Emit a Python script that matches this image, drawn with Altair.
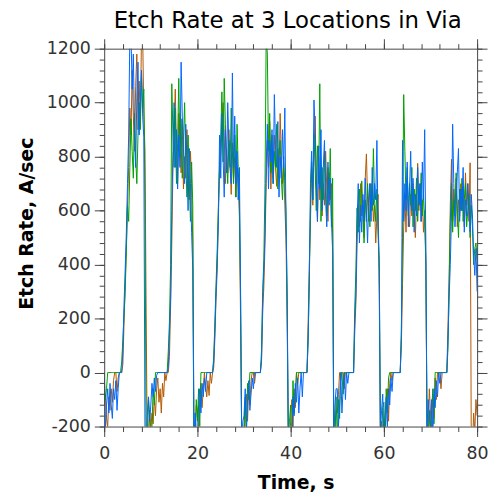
import altair as alt
import pandas as pd

# ---------------- data (sampled every 0.25 s, t = 0 ... 80) ----------------
STEP = 0.25

brown = [
    # 0-10 s
    -120, -80, -170, -200, -90, -140, -60, -110, -30, 0,
    0, -70, -20, 0, 0, 0, 30, 180, 330, 470,
    620, 760, 980, 880, 1120, 950, 820, 1060, 1180, 900,
    1080, 920, 1250, 1250, 960, 820, 220, -300, -220, -140,
    # 10-20 s
    -210, -150, -190, -90, -160, -60, -20, -110, -60, -150,
    -40, -90, 0, -30, 0, 0, 60, 250, 480, 760,
    900, 1050, 820, 700, 960, 860, 740, 920, 680, 800,
    720, 900, 760, 640, 820, 700, 480, -240, -210, -120,
    # 20-30 s
    -140, -220, -100, -40, -130, -60, 0, -50, -90, -30,
    -85, 0, -40, 0, 20, 130, 280, 380, 600, 760,
    820, 930, 1000, 880, 700, 830, 740, 900, 780, 660,
    850, 720, 800, 650, 760, 700, 580, 200, -240, -220,
    # 30-40 s
    -240, -130, -80, -180, -50, -120, -30, 0, 0, -40,
    0, 0, 0, 0, 0, 40, 220, 320, 480, 700,
    860, 760, 930, 680, 820, 720, 880, 760, 690, 830,
    720, 960, 800, 700, 760, 620, 500, 180, -230, -260,
    # 40-50 s
    -180, -100, -210, -60, -130, 0, -40, 0, 0, 0,
    0, 0, 0, 0, 0, 180, 400, 560, 760, 620,
    820, 950, 700, 560, 800, 640, 760, 580, 700, 620,
    820, 680, 560, 740, 640, 700, 520, -230, -200, -140,
    # 50-60 s
    -150, -80, 0, -30, 0, 0, -60, 0, 0, 0,
    0, 0, 0, 0, 0, 150, 260, 480, 620, 540,
    700, 580, 640, 500, 720, 810, 640, 560, 700, 600,
    680, 560, 620, 480, 580, 660, 300, -240, -180, -220,
    # 60-70 s
    -190, -250, -140, -60, -180, -40, 0, -30, 0, 0,
    0, 0, 0, 0, 0, 100, 330, 540, 660, 520,
    720, 600, 540, 660, 580, 700, 620, 500, 640, 775,
    600, 700, 560, 640, 520, 600, 420, -230, -210, -60,
    # 70-80 s
    -150, -220, -80, -170, -20, -100, 0, 0, 0, -60,
    0, 0, 0, 0, 0, 170, 360, 620, 790, 560,
    680, 600, 720, 540, 640, 580, 700, 600, 680, 540,
    740, 620, 700, 560, 777, -260, -280, -150, -220, -100,
    -160,
]

green = [
    # 0-10 s
    -20, -100, -60, 0, 0, 0, 0, 0, 0, 0,
    0, 0, 0, 0, 0, 40, 120, 210, 300, 450,
    620, 560, 760, 940, 820, 720, 960, 800, 700, 880,
    1000, 900, 1100, 980, 1050, 640, -280, -250, -100, -170,
    # 10-20 s
    -270, -200, -60, -120, 0, 0, 0, 0, 0, 0,
    0, 0, 0, 0, 0, 80, 190, 400, 1070, 880,
    760, 980, 700, 850, 1090, 800, 940, 720, 860, 1000,
    780, 650, 880, 720, 560, 780, 620, -250, -280, -100,
    # 20-30 s
    -180, -60, -200, 0, 0, 0, 0, 0, 0, 0,
    0, 0, 0, 0, 60, 190, 330, 460, 620, 760,
    880, 1040, 780, 1090, 920, 800, 700, 860, 760, 980,
    820, 700, 880, 650, 920, 760, 640, 280, -250, -210,
    # 30-40 s
    -200, -90, -260, -40, -100, 0, 0, 0, 0, 0,
    0, 0, 0, 0, 0, 80, 300, 420, 700, 1250,
    1180, 820, 960, 740, 880, 700, 820, 760, 920, 680,
    800, 860, 720, 640, 800, 700, 600, 240, -240, -180,
    # 40-50 s
    -120, -260, -30, -150, -80, 0, 0, 0, 0, 0,
    0, 0, 0, 0, 0, 120, 330, 620, 780, 640,
    880, 760, 600, 840, 700, 1070, 560, 760, 640, 820,
    700, 580, 760, 660, 830, 540, 720, -200, -260, -90,
    # 50-60 s
    -250, -100, -170, 0, 0, -80, 0, 0, 0, 0,
    0, 0, 0, 0, 0, 240, 380, 610, 520, 680,
    560, 710, 600, 480, 640, 560, 700, 620, 540, 700,
    600, 830, 640, 560, 680, 520, 380, -200, -260, -130,
    # 60-70 s
    -110, -270, -60, -150, -20, 0, 0, 0, 0, 0,
    0, 0, 0, 0, 0, 160, 500, 1030, 820, 640,
    760, 580, 700, 620, 760, 540, 680, 600, 720, 560,
    680, 620, 740, 580, 660, 560, 400, -180, -250, -140,
    # 70-80 s
    -260, -140, -60, -190, 0, 0, 0, 0, 0, 0,
    0, 0, 0, 0, 0, 90, 330, 560, 700, 520,
    640, 580, 740, 620, 500, 680, 600, 720, 560, 640,
    700, 540, 600, 660, 500, 620, 540, 400, 460, 480,
    420,
]

blue = [
    # 0-10 s
    0, -220, -120, -60, -150, -40, -120, -170, -60, -100,
    -30, -140, -60, 0, 0, 0, 80, 250, 380, 520,
    700, 880, 1250, 1250, 1050, 1180, 900, 760, 1020, 1150,
    880, 1000, 1120, 950, 870, -250, -260, -150, -90, -180,
    # 10-20 s
    -120, -40, -90, -20, -70, -10, 0, 0, 0, 0,
    0, 0, 0, 0, 0, 20, 150, 280, 600, 820,
    1000, 760, 900, 680, 880, 760, 1150, 950, 830, 700,
    920, 780, 600, 830, 700, 520, 380, -260, -150, -220,
    # 20-30 s
    -250, -120, -60, -150, -40, -90, -20, -70, 0, 0,
    0, 0, 0, 0, 40, 160, 300, 420, 560, 880,
    720, 960, 800, 650, 900, 740, 1000, 840, 760, 700,
    1110, 760, 950, 700, 820, 640, 760, 320, -260, -180,
    # 30-40 s
    -160, -60, -200, -110, -30, -140, -80, -20, -60, 0,
    0, 0, 0, 0, 0, 50, 280, 380, 520, 760,
    920, 680, 860, 780, 900, 700, 1030, 840, 760, 930,
    650, 800, 720, 900, 760, 980, 560, 300, -270, -200,
    # 40-50 s
    -220, -250, -90, -160, -40, -110, -20, -150, -60, 0,
    -90, 0, 0, 0, 0, 120, 360, 700, 820, 640,
    1010, 900, 720, 560, 840, 680, 900, 600, 760, 860,
    640, 540, 780, 620, 720, 560, 450, -250, -120, -60,
    # 50-60 s
    -60, -200, -120, 0, -150, -60, 0, -100, 0, -40,
    0, 0, 0, 0, 0, 200, 290, 560, 700, 480,
    620, 520, 660, 560, 720, 600, 480, 640, 700, 560,
    760, 620, 700, 640, 860, 540, 420, -220, -140, -80,
    # 60-70 s
    -230, -160, -90, -200, -60, -120, -20, -70, 0, 0,
    0, 0, 0, 0, 0, 130, 860, 560, 700, 600,
    780, 540, 680, 820, 600, 720, 520, 660, 580, 760,
    620, 700, 560, 780, 640, 900, 480, -210, -100, -170,
    # 70-80 s
    -200, -100, -240, -60, -130, -30, -90, 0, -40, 0,
    0, 0, 0, 0, 0, 120, 280, 400, 580, 920,
    700, 540, 620, 740, 830, 560, 680, 600, 760, 520,
    640, 580, 700, 620, 520, 660, 580, 440, 360, 460,
    300,
]

series_names = ["Location 1", "Location 2", "Location 3"]
series_values = [brown, green, blue]
series_colors = ["#b35900", "#00a000", "#0066ff"]

x_major_ticks = [0, 20, 40, 60, 80]
x_minor_ticks = list(range(0, 81, 4))
y_major_ticks = list(range(-200, 1201, 200))
y_minor_ticks = list(range(-200, 1201, 40))

TITLE = "Etch Rate at 3 Locations in Via"
X_TITLE = "Time, s"
Y_TITLE = "Etch Rate, A/sec"

# ---------------- chart ----------------
FONT = "DejaVu Sans"
AXC = "#444444"
W, H = 376, 381

x_scale = alt.Scale(domain=[0, 80], nice=False, zero=False)
y_scale = alt.Scale(domain=[-200, 1200], nice=False, zero=False)

common = dict(grid=False, domainColor=AXC, tickColor=AXC, domainWidth=1,
              tickWidth=1, zindex=1)

def tick_axis(orient, values, size, domain):
    return alt.Axis(orient=orient, values=values, tickSize=size, labels=False,
                    domain=domain, title=None, **common)

label_style = dict(labelFont=FONT, labelFontSize=17.5, labelColor="#333333",
                   labelFlush=False, labelExpr="'' + datum.value")
title_style = dict(titleFont=FONT, titleFontSize=19, titleFontWeight="bold",
                   titleColor="black", titleBaseline="alphabetic")

x_main = alt.Axis(orient="bottom", values=x_major_ticks, tickSize=10,
                  labelPadding=8, title=X_TITLE, titleX=193, titleY=62,
                  **label_style, **title_style, **common)
y_main = alt.Axis(orient="left", values=y_major_ticks, tickSize=10,
                  labelPadding=4, title=Y_TITLE, titleX=-72, titleY=176,
                  **label_style, **title_style, **common)

axis_df = pd.DataFrame({"t": [0.0], "v": [0.0]})

def axis_layer(ax, ay):
    return alt.Chart(axis_df).mark_point(opacity=0).encode(
        x=alt.X("t:Q", scale=x_scale, axis=ax),
        y=alt.Y("v:Q", scale=y_scale, axis=ay),
    )

layers = []
for name, vals, col in zip(series_names, series_values, series_colors):
    df = pd.DataFrame({"t": [i * STEP for i in range(len(vals))], "v": vals})
    layers.append(
        alt.Chart(df).mark_line(color=col, strokeWidth=1, clip=True).encode(
            x=alt.X("t:Q", scale=x_scale, axis=None),
            y=alt.Y("v:Q", scale=y_scale, axis=None),
        )
    )

layers.append(axis_layer(x_main, y_main))
layers.append(axis_layer(tick_axis("bottom", x_minor_ticks, 5, False),
                         tick_axis("left", y_minor_ticks, 5, False)))
layers.append(axis_layer(tick_axis("top", x_major_ticks, 10, True),
                         tick_axis("right", y_major_ticks, 10, True)))
layers.append(axis_layer(tick_axis("top", x_minor_ticks, 5, False),
                         tick_axis("right", y_minor_ticks, 5, False)))

# chart title, drawn as a text mark above the plot area
layers.append(
    alt.Chart(axis_df).mark_text(text=TITLE, font=FONT, fontSize=23, color="black",
                                 align="center", baseline="alphabetic").encode(
        x=alt.value(W / 2 - 3), y=alt.value(-21)
    )
)

chart = alt.layer(*layers).resolve_axis(x="independent", y="independent").properties(
    width=W,
    height=H,
    autosize=alt.AutoSizeParams(type="none"),
    padding={"left": 97, "top": 39, "right": 14, "bottom": 65},
).configure_view(strokeWidth=0)

chart.save("out.html", embed_options={"renderer": "svg", "actions": False})
